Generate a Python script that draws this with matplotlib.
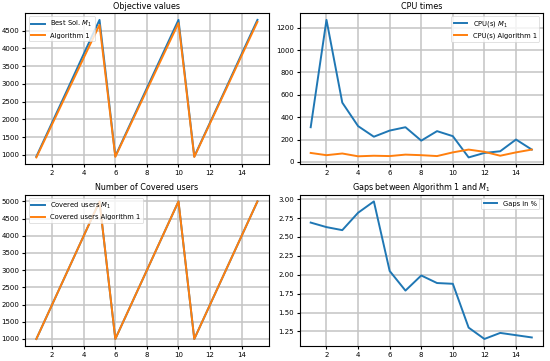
import numpy as np
import matplotlib
matplotlib.use('Agg')
import matplotlib.pyplot as plt

x = np.arange(1, 16)

best_obj = [950, 1910, 2870, 3840, 4800, 960, 1920, 2880, 3840, 4800, 950, 1910, 2870, 3840, 4800]
alg_obj = [925, 1860, 2795, 3730, 4660, 940, 1885, 2825, 3770, 4710, 938, 1888, 2835, 3795, 4745]

cpu_m1 = [310, 1270, 530, 320, 225, 280, 310, 190, 275, 230, 40, 80, 95, 200, 110]
cpu_alg = [80, 60, 75, 50, 55, 52, 65, 60, 52, 85, 110, 90, 55, 85, 110]

cov_m1 = [1000, 2000, 3000, 4000, 5000, 1000, 2000, 3000, 4000, 5000, 1000, 2000, 3000, 4000, 5000]
cov_alg = [1000, 2000, 3000, 4000, 5000, 1000, 2000, 3000, 4000, 5000, 1000, 2000, 3000, 4000, 5000]

gaps = [2.69, 2.63, 2.59, 2.82, 2.97, 2.05, 1.79, 1.99, 1.89, 1.88, 1.30, 1.15, 1.23, 1.20, 1.17]

plt.rcParams['font.size'] = 10
plt.rcParams['legend.fontsize'] = 9.8
plt.rcParams['lines.linewidth'] = 2.8
plt.rcParams['axes.linewidth'] = 1.6
plt.rcParams['xtick.major.width'] = 1.6
plt.rcParams['ytick.major.width'] = 1.6
plt.rcParams['xtick.major.size'] = 5
plt.rcParams['ytick.major.size'] = 5

fig, axs = plt.subplots(2, 2, figsize=(11, 7.22), dpi=50)

def style(ax):
    ax.grid(color='#c4c4c4', linewidth=2.2)

ax = axs[0, 0]
ax.plot(x, best_obj, label='Best Sol. $M_1$')
ax.plot(x, alg_obj, label='Algorithm 1')
ax.set_title('Objective values', fontsize=11.5)
ax.legend(loc='upper left')
style(ax)

ax = axs[0, 1]
ax.plot(x, cpu_m1, label='CPU(s) $M_1$')
ax.plot(x, cpu_alg, label='CPU(s) Algorithm 1')
ax.set_title('CPU times', fontsize=11.5)
ax.legend(loc='upper right')
style(ax)

ax = axs[1, 0]
ax.plot(x, cov_m1, label='Covered users $M_1$')
ax.plot(x, cov_alg, label='Covered users Algorithm 1')
ax.set_title('Number of Covered users', fontsize=11.5)
ax.legend(loc='upper left')
style(ax)

ax = axs[1, 1]
ax.plot(x, gaps, label='Gaps in %')
ax.set_title('Gaps between Algorithm 1 and $M_1$', fontsize=11.5)
ax.legend(loc='upper right')
style(ax)

plt.subplots_adjust(left=0.046, right=0.987, top=0.964, bottom=0.042, wspace=0.128, hspace=0.2)
plt.savefig('out.png', dpi=50)
